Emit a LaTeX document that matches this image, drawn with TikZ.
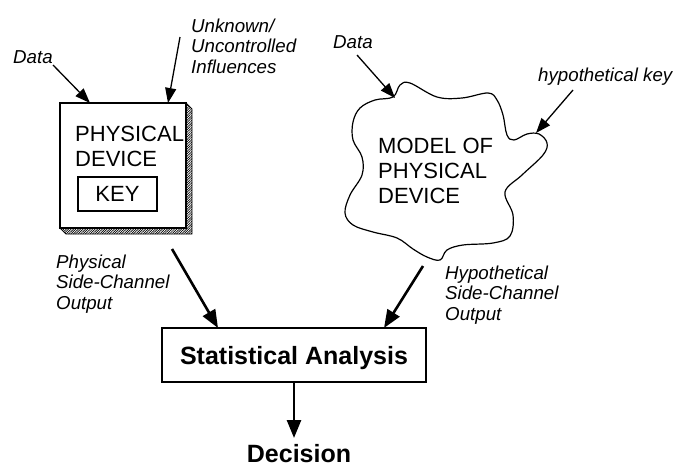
\documentclass[tikz,border=0pt]{standalone}
\usepackage{fontspec}
\setmainfont{Liberation Sans}
\usetikzlibrary{arrows.meta,patterns.meta}
\begin{document}
\begin{tikzpicture}[x=1pt,y=-1pt,
  lbl/.style={font=\fontsize{18.7}{20.5}\selectfont\itshape, inner sep=0pt, align=left, anchor=base west},
  big/.style={font=\fontsize{22}{24.5}\selectfont, inner sep=0pt, align=left, anchor=base west},
  thin/.style={line width=1.3pt, -{Triangle[length=15pt,width=11pt]}},
  thick/.style={line width=2.6pt, -{Triangle[length=18pt,width=14pt]}},
  box/.style={draw, line width=1.2pt, inner sep=0pt}
]
\useasboundingbox (0,0) rectangle (676,466);
% physical device with bevelled hatched shadow
\path[pattern={Lines[angle=45,distance=1.7pt,line width=0.7pt]}, draw, line width=0.9pt]
  (186,103) -- (192,109) -- (192,234) -- (66,234) -- (60,228) -- (186,228) -- cycle;
\node[box, minimum width=126pt, minimum height=125pt] (dev) at (123,165.5) {};
\node[big] (devtxt) at (75,166) {PHYSICAL\\DEVICE};
\node[box, minimum width=79pt, minimum height=34pt, font=\fontsize{22}{24}\selectfont] (key) at (117.5,194) {KEY};
% model cloud
\draw[line width=1.2pt] plot[smooth cycle, tension=0.6] coordinates {
 (393,97) (400,85) (410,83) (437,97) (462,98) (488,93) (497,100) (503,115) (507,135)
 (514,140) (527,134) (539,134) (547,143) (543,155) (522,175) (505,192) (513,215)
 (510,236) (493,243) (463,245) (447,250) (440,260) (427,257) (413,249) (397,238)
 (373,232) (353,225) (345,213) (350,195) (362,175) (362,157) (353,140) (353,122)
 (360,108) (375,100)};
\node[big, font=\fontsize{22}{25}\selectfont] (model) at (378,203) {MODEL OF\\PHYSICAL\\DEVICE};
% labels
\node[lbl] (data1) at (13,63) {Data};
\node[lbl] (unk) at (191,73) {Unknown/\\Uncontrolled\\Influences};
\node[lbl] (data2) at (333,48) {Data};
\node[lbl] (hkey) at (538,81) {hypothetical key};
\node[lbl] (pso) at (56,309) {Physical\\Side-Channel\\Output};
\node[lbl] (hso) at (445,320) {Hypothetical\\Side-Channel\\Output};
% statistical analysis and decision
\node[box, minimum width=264pt, minimum height=54pt, text depth=0pt,
      font=\fontsize{25}{28}\selectfont\bfseries] (stat) at (294,355) {Statistical Analysis};
\node[font=\fontsize{25}{28}\selectfont\bfseries, inner sep=0pt, anchor=base] (dec) at (299,462) {Decision};
% connector points
\coordinate (d1s) at (53,65);   \coordinate (d1e) at (90,103);
\coordinate (us) at (180,37);   \coordinate (ue) at (168,103);
\coordinate (d2s) at (357,55);  \coordinate (d2e) at (395,98);
\coordinate (ks) at (573,90);   \coordinate (ke) at (536,133);
\coordinate (ps) at (172,249);  \coordinate (pe) at (218,328);
\coordinate (hs) at (423,266);  \coordinate (he) at (384,328);
\coordinate (de) at (294,438);
\draw[thin] (d1s) -- (d1e);
\draw[thin] (us) -- (ue);
\draw[thin] (d2s) -- (d2e);
\draw[thin] (ks) -- (ke);
\draw[thick] (ps) -- (pe);
\draw[thick] (hs) -- (he);
\draw[thick] (stat.south) -- (de);
\end{tikzpicture}
\end{document}
